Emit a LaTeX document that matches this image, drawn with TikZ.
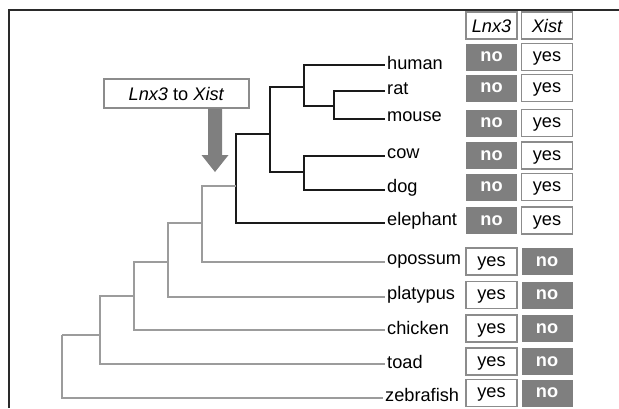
\documentclass[tikz,border=0pt]{standalone}
\usepackage{fontspec}
\setmainfont{Liberation Sans}
\definecolor{treeblk}{HTML}{1A1A1A}
\definecolor{treegry}{HTML}{9C9C9C}
\definecolor{nofill}{HTML}{7F7F7F}
\definecolor{boxedge}{HTML}{8C8C8C}
\definecolor{framecol}{HTML}{2A2A2A}
\newcommand\txtfont{\fontsize{18.2}{21}\selectfont}
\begin{document}
\begin{tikzpicture}[x=1pt,y=-1pt,
  blk/.style={draw=treeblk, line width=1.9pt},
  gry/.style={draw=treegry, line width=1.9pt},
  spname/.style={anchor=west, inner xsep=2pt, inner ysep=0pt, font=\txtfont},
  cell/.style={minimum width=51pt, minimum height=27pt, inner sep=0pt, font=\txtfont,
               text height=9.45pt, text depth=0pt},
  yescell/.style={cell, draw=boxedge, line width=1.1pt, fill=white},
  nocell/.style={cell, fill=nofill, text=white, font=\txtfont\bfseries},
  hdrcell/.style={cell, draw=boxedge, line width=1.1pt, fill=white, font=\txtfont\itshape,
                  text height=13pt}
]
\useasboundingbox (0,0) rectangle (619,408);
% frame
\draw[framecol, line width=1.8pt] (9,408) -- (9,10) -- (619,10);

% species labels
\node[spname] (human)  at (385,63) {human};
\node[spname] (rat)    at (385,89) {rat};
\node[spname] (mouse)  at (385,117) {mouse};
\node[spname] (cow)    at (385,154) {cow};
\node[spname] (dog)    at (385,188) {dog};
\node[spname] (eleph)  at (385,221) {elephant};
\node[spname] (opos)   at (385,261) {opossum};
\node[spname] (platy)  at (385,295) {platypus};
\node[spname] (chick)  at (385,328) {chicken};
\node[spname] (toad)   at (385,362) {toad};
\node[spname] (zebra)  at (383,395) {zebrafish};

% internal nodes
\coordinate (rm)    at (334,106);
\coordinate (hrm)   at (304,87);
\coordinate (cd)    at (304,172);
\coordinate (boreo) at (270,134);
\coordinate (plac)  at (236,186);
\coordinate (ther)  at (202,223);
\coordinate (mam)   at (168,262);
\coordinate (amn)   at (134,296);
\coordinate (tet)   at (100,335);
\coordinate (root)  at (62,335);

% black subtree
\draw[blk] (rm) |- ([yshift=-2pt]rat.west);
\draw[blk] (rm) |- ([yshift=-2pt]mouse.west);
\draw[blk] (hrm) |- ([yshift=-2pt]human.west);
\draw[blk] (hrm) |- (rm);
\draw[blk] (cd) |- ([yshift=-2pt]cow.west);
\draw[blk] (cd) |- ([yshift=-2pt]dog.west);
\draw[blk] (boreo) |- (hrm);
\draw[blk] (boreo) |- (cd);
\draw[blk] (plac) |- (boreo);
\draw[blk] (plac) |- ([yshift=-2pt]eleph.west);
% gray part
\draw[gry] (ther) |- (plac);
\draw[gry] (ther) |- ([yshift=-1pt]opos.west);
\draw[gry] (mam) |- (ther);
\draw[gry] (mam) |- ([yshift=-2pt]platy.west);
\draw[gry] (amn) |- (mam);
\draw[gry] (amn) |- ([yshift=-2pt]chick.west);
\draw[gry] (tet) |- (amn);
\draw[gry] (tet) |- ([yshift=-2pt]toad.west);
\draw[gry] (root) |- (tet);
\draw[gry] (root) |- ([yshift=-3pt]zebra.west);

% transition box and arrow
\node[draw=boxedge, line width=1.1pt, fill=white, minimum width=145pt, minimum height=29pt,
      inner sep=0pt, font=\txtfont] (trans) at (176.5,93.5) {\textit{Lnx3} to \textit{Xist}};
\fill[nofill] (208,108.5) -- (222,108.5) -- (222,155) -- (228.5,155) -- (215,172)
      -- (201.5,155) -- (208,155) -- cycle;

% table
\node[hdrcell] (h1) at (491.5,25.5) {Lnx3};
\node[hdrcell] (h2) at (547,25.5) {Xist};
\foreach \nm/\yy in {a/57,b/88,c/123,d/155.5,e/187,f/220.5}{
  \node[nocell]  (n\nm) at (491.5,\yy) {no};
  \node[yescell] (y\nm) at (547,\yy) {yes};
}
\foreach \nm/\yy in {g/261.5,h/295,i/328.5,j/361.5,k/393}{
  \node[yescell] (y\nm) at (491.5,\yy) {yes};
  \node[nocell]  (n\nm) at (547,\yy) {no};
}
\end{tikzpicture}
\end{document}
